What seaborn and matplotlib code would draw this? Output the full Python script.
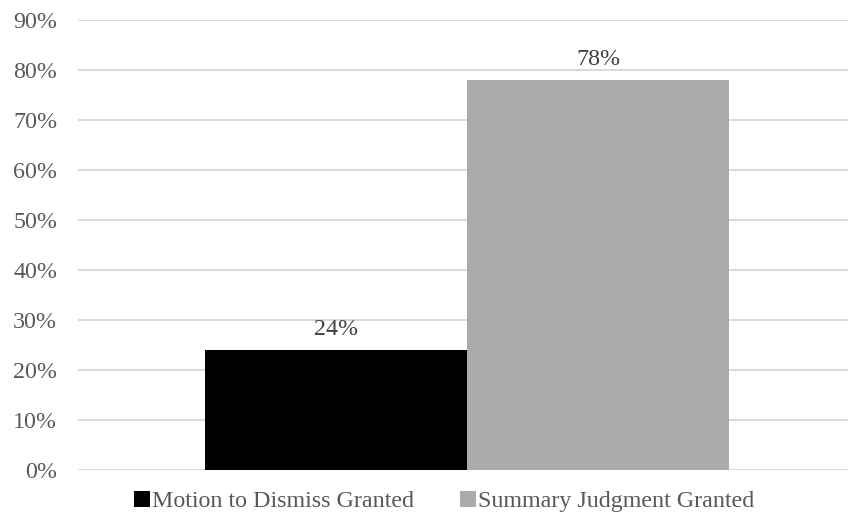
import matplotlib
matplotlib.use("Agg")
import matplotlib.pyplot as plt
from matplotlib.patches import Patch
from matplotlib.ticker import PercentFormatter
import pandas as pd
import seaborn as sns

motions = ["Motion to Dismiss Granted", "Summary Judgment Granted"]
rates = [24, 78]
colors = ["#000000", "#ababab"]
y_ticks = [0, 10, 20, 30, 40, 50, 60, 70, 80, 90]

df = pd.DataFrame({"group": ["All"] * len(motions), "motion": motions, "rate": rates})

sns.set_theme(style="white")
plt.rcParams["font.family"] = ["Liberation Serif", "DejaVu Serif"]
text_color = "#595959"
fs = 17.3

fig = plt.figure(figsize=(8.48, 5.16), dpi=100)
ax = fig.add_axes([0.092, 0.089, 0.9175, 0.872])

sns.barplot(data=df, x="group", y="rate", hue="motion", hue_order=motions,
            palette=colors, width=0.6735, gap=0, saturation=1, ax=ax,
            legend=False, errorbar=None, linewidth=0)

for container, val in zip(ax.containers, rates):
    ax.bar_label(container, labels=[f"{val}%"], padding=7,
                 fontsize=fs, color="#404040")

ax.set_ylim(0, 90)
ax.set_xlim(-0.5, 0.5)
ax.set_yticks(y_ticks)
ax.yaxis.set_major_formatter(PercentFormatter(decimals=0))
ax.tick_params(axis="y", length=0, pad=15, labelsize=fs, labelcolor=text_color)
ax.set_xticks([])
ax.set_xlabel("")
ax.set_ylabel("")
ax.grid(axis="y", color="#d9d9d9", linewidth=1.4)
ax.set_axisbelow(True)
for s in ax.spines.values():
    s.set_visible(False)

handles = [Patch(facecolor=c, edgecolor="none") for c in colors]
fig.legend(handles, motions, loc="center", bbox_to_anchor=(0.524, 0.028),
           ncol=2, frameon=False, fontsize=fs, labelcolor=text_color,
           handlelength=0.67, handleheight=0.67, handletextpad=0.08,
           columnspacing=1.9, borderpad=0)

fig.savefig("out.png", dpi=100, facecolor="white")
